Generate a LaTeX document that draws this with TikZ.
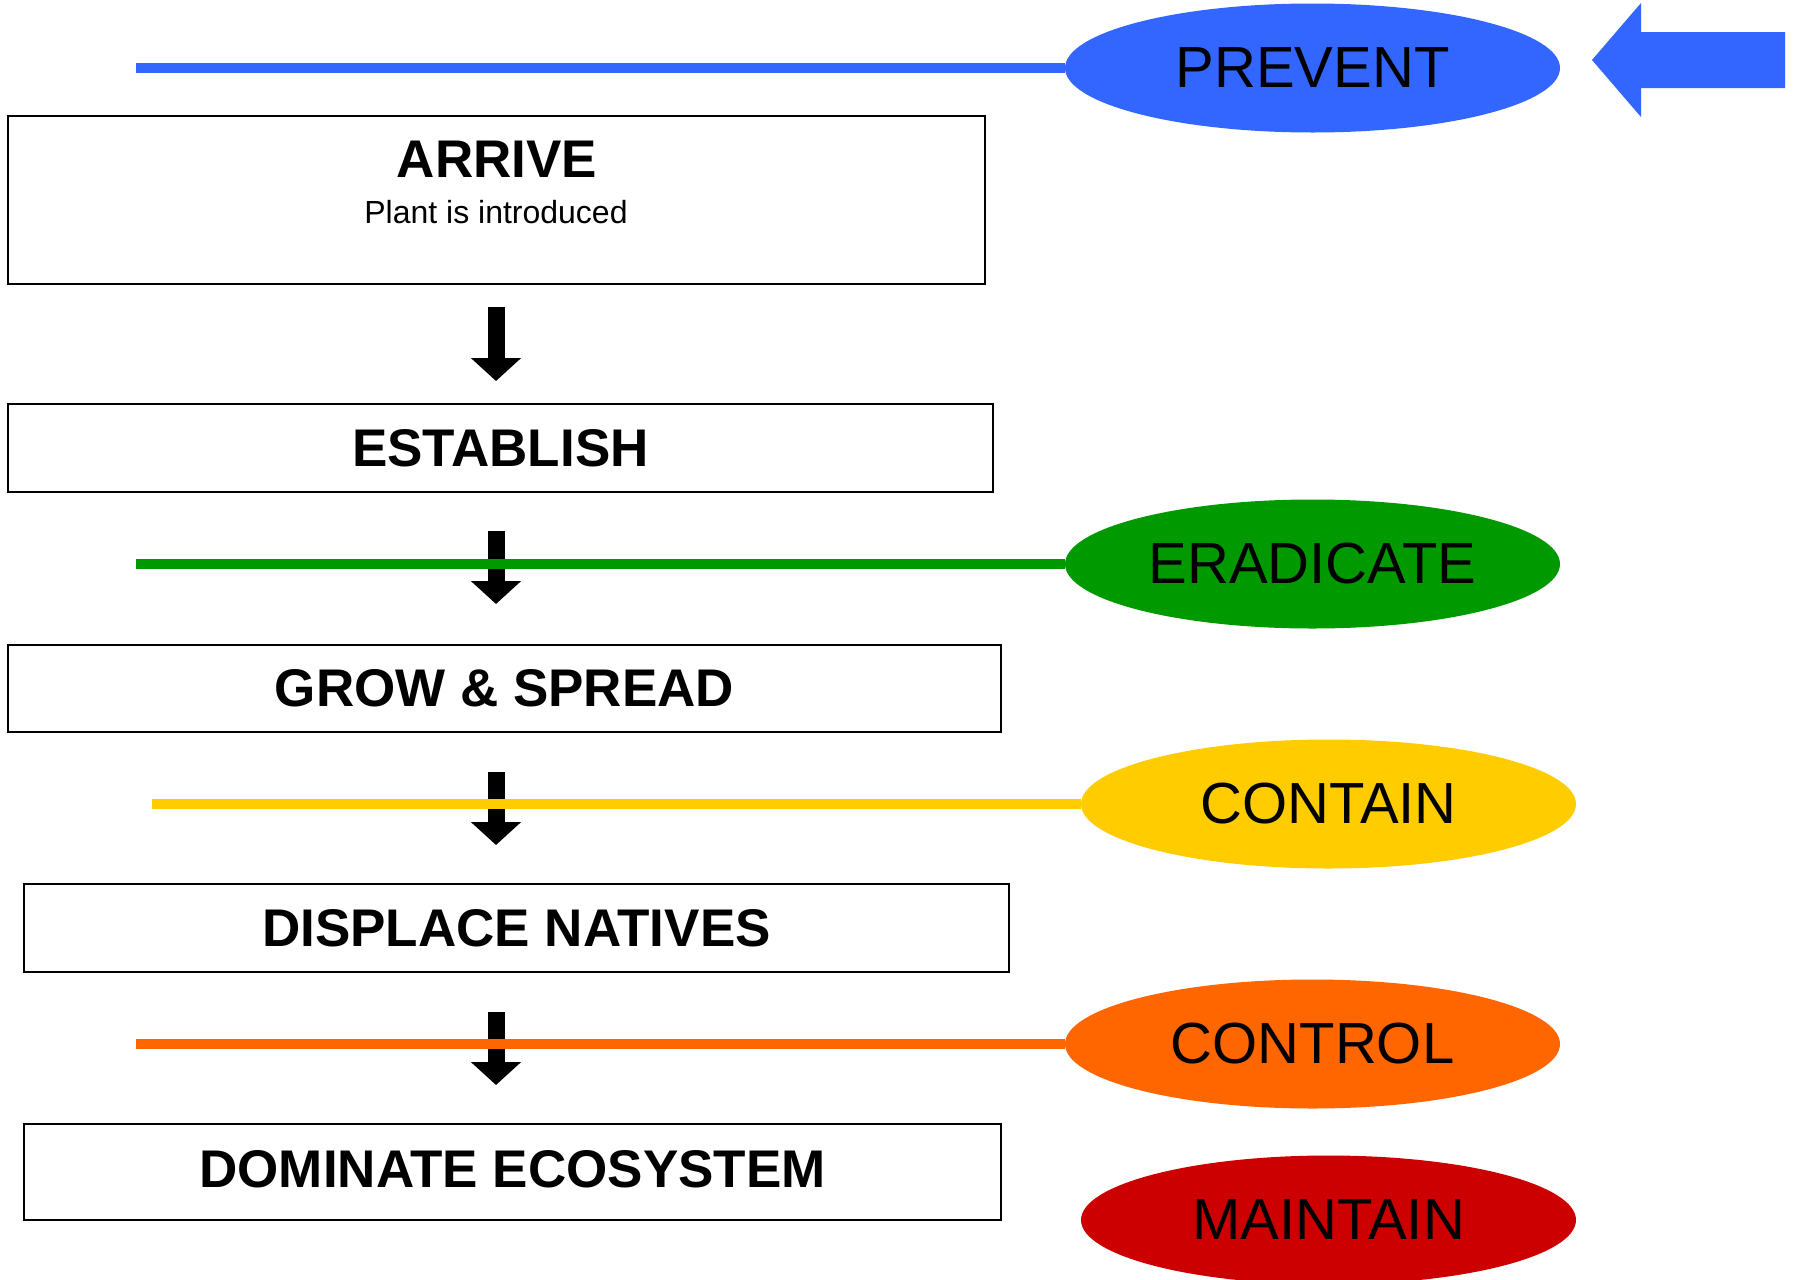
\documentclass[tikz,border=0pt]{standalone}
\usepackage{fontspec}
\setmainfont{Liberation Sans}
\usetikzlibrary{shapes.geometric,arrows.meta,backgrounds}

\definecolor{prevblue}{HTML}{3366FF}
\definecolor{eradgreen}{HTML}{009900}
\definecolor{contyellow}{HTML}{FFCC00}
\definecolor{ctrlorange}{HTML}{FF6600}
\definecolor{maintred}{HTML}{CC0000}

\tikzset{
  stagebox/.style={draw=black, line width=1pt, rectangle,
    inner sep=0pt, outer sep=0pt,
    font=\fontsize{26.5pt}{30pt}\selectfont\bfseries},
  action/.style={ellipse, fill=#1, draw=none, inner sep=0pt, outer sep=0pt,
    minimum width=247.5pt, minimum height=64.5pt,
    font=\fontsize{29pt}{32pt}\selectfont},
  flowarrow/.style={line width=8.5pt, black,
    -{Triangle[width=24.5pt,length=11.5pt]}},
  actionline/.style={line width=5pt, draw=#1, line cap=butt},
}

\begin{document}
\begin{tikzpicture}[x=0.5pt, y=-0.5pt]
  \useasboundingbox (0,0) rectangle (1795,1280);

  % stages of invasion
  \node[stagebox, minimum width=488.5pt, minimum height=84pt] (arrive) at (496.5,200) {};
  \node[font=\fontsize{26.5pt}{30pt}\selectfont\bfseries] (arrivetitle) at (497,159) {ARRIVE};
  \node[font=\fontsize{16pt}{18pt}\selectfont, inner sep=0pt] (arrivenote) at (496,212) {Plant is introduced};
  \node[stagebox, minimum width=492.5pt, minimum height=44pt] (establish) at (500.5,448) {ESTABLISH};
  \node[stagebox, minimum width=496.5pt, minimum height=43.5pt] (grow) at (504.5,688.5) {GROW \& SPREAD};
  \node[stagebox, minimum width=492.5pt, minimum height=44pt] (displace) at (516.5,928) {DISPLACE NATIVES};
  \node[stagebox, minimum width=488.5pt, minimum height=48pt] (dominate) at (512.5,1172) {\raisebox{3pt}{DOMINATE ECOSYSTEM}};

  % management actions
  \node[action=prevblue] (prevent) at (1312.5,68) {PREVENT};
  \node[action=eradgreen] (eradicate) at (1312.5,564) {ERADICATE};
  \node[action=contyellow] (contain) at (1328.5,804) {CONTAIN};
  \node[action=ctrlorange] (control) at (1312.5,1044) {CONTROL};
  \node[action=maintred] (maintain) at (1328.5,1220) {MAINTAIN};

  % big blue arrow pointing at PREVENT
  \fill[prevblue] (1592,60) -- (1641,3) -- (1641,32) -- (1785,32)
    -- (1785,88) -- (1641,88) -- (1641,117) -- cycle;

  % start points of the action lines and the axis of the flow arrows
  \coordinate (ax) at (496,0);
  \coordinate (pstart) at (136,68);
  \coordinate (estart) at (136,564);
  \coordinate (cstart) at (152,804);
  \coordinate (ostart) at (136,1044);

  \begin{scope}[on background layer]
    \fill[white] (0,0) rectangle (1795,1280);

    \draw[flowarrow, shorten <=11.5pt, shorten >=11.5pt]
      (arrive.south -| ax) -- (establish.north -| ax);
    \draw[flowarrow, shorten <=19.5pt, shorten >=20.5pt]
      (establish.south -| ax) -- (grow.north -| ax);
    \draw[flowarrow, shorten <=20pt, shorten >=19.5pt]
      (grow.south -| ax) -- (displace.north -| ax);
    \draw[flowarrow, shorten <=20pt, shorten >=19.5pt]
      (displace.south -| ax) -- (dominate.north -| ax);

    \draw[actionline=prevblue] (pstart) -- (prevent.west);
    \draw[actionline=eradgreen] (estart) -- (eradicate.west);
    \draw[actionline=contyellow] (cstart) -- (contain.west);
    \draw[actionline=ctrlorange] (ostart) -- (control.west);
  \end{scope}
\end{tikzpicture}
\end{document}
